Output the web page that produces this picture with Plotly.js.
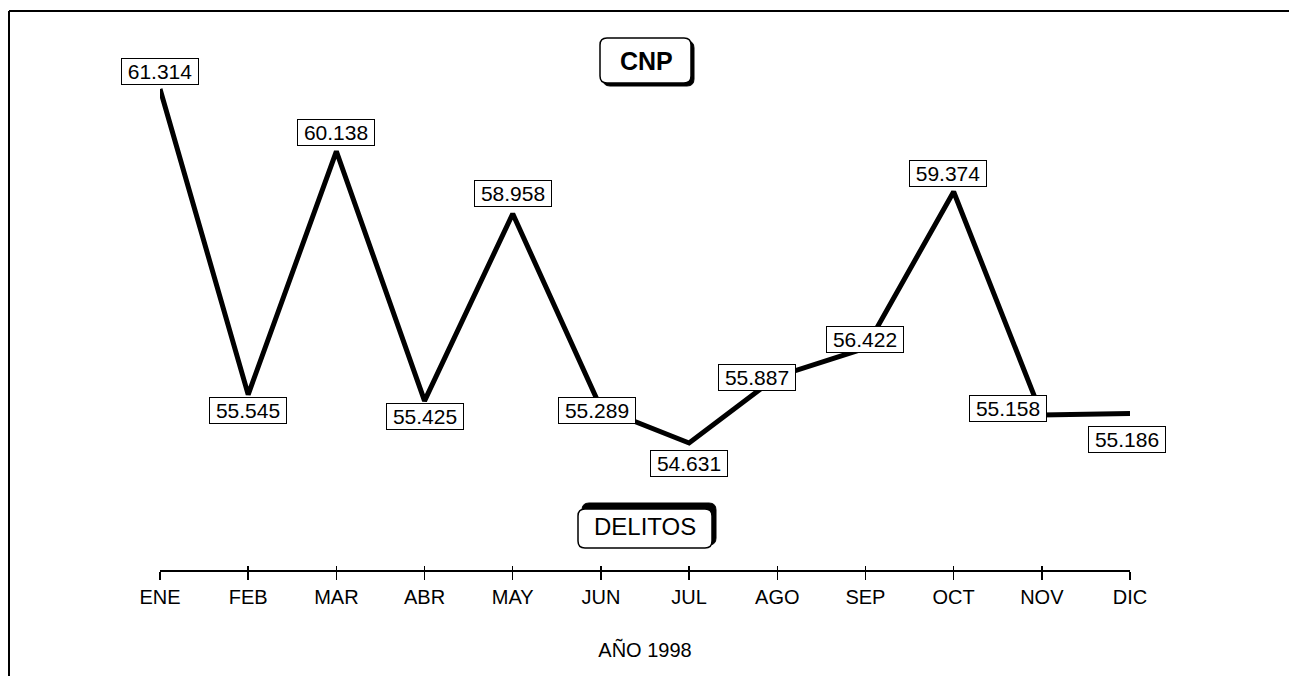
<!DOCTYPE html>
<html>
<head>
<meta charset="utf-8">
<script src="https://cdn.plot.ly/plotly-3.0.1.min.js"></script>
<style>html,body{margin:0;padding:0;background:#fff;}#chart{width:1289px;height:676px;}</style>
</head>
<body>
<div id="chart"></div>
<script>
// ---- data ----
const months = ["ENE","FEB","MAR","ABR","MAY","JUN","JUL","AGO","SEP","OCT","NOV","DIC"];
const delitos = [61314, 55545, 60138, 55425, 58958, 55289, 54631, 55887, 56422, 59374, 55158, 55186];
const valueLabels = ["61.314","55.545","60.138","55.425","58.958","55.289","54.631","55.887","56.422","59.374","55.158","55.186"];
const chartTitle = "CNP";
const seriesName = "DELITOS";
const xTitle = "AÑO 1998";

// ---- label placement (pixel offsets, style only) ----
const labelShift = [[0,17],[0,-16],[0,19],[0,-16],[0,20],[-4,-2],[0,-21],[-20,-1],[0,9],[-6,18],[-34,7],[-3,-26]];

const W = 1289, H = 676, L = 160, R = 159, T = 0, B = 106;
const pw = W - L - R, ph = H - T - B;
const px = x => (x - L) / pw;
const py = y => (H - B - y) / ph;
function rr(x0, y0, x1, y1, r) {
  const P = (x, y) => px(x) + ',' + py(y);
  return 'M ' + P(x0 + r, y0) + ' L ' + P(x1 - r, y0) + ' Q ' + P(x1, y0) + ' ' + P(x1, y0 + r) +
    ' L ' + P(x1, y1 - r) + ' Q ' + P(x1, y1) + ' ' + P(x1 - r, y1) +
    ' L ' + P(x0 + r, y1) + ' Q ' + P(x0, y1) + ' ' + P(x0, y1 - r) +
    ' L ' + P(x0, y0 + r) + ' Q ' + P(x0, y0) + ' ' + P(x0 + r, y0) + ' Z';
}

const yv = delitos.map(v => v / 1000);
const FONT = "Liberation Sans, Arial, Helvetica, sans-serif";

const traces = [
  {x: months, y: yv, type: 'scatter', mode: 'lines', name: seriesName,
   line: {color: '#000', width: 5}, hoverinfo: 'x+y', showlegend: false},
  {x: months, y: yv, xaxis: 'x2', type: 'scatter', mode: 'lines',
   line: {color: 'rgba(0,0,0,0)', width: 0}, hoverinfo: 'skip', showlegend: false}
];

const annotations = months.map((m, i) => ({
  x: m, y: yv[i], xref: 'x', yref: 'y', text: valueLabels[i], showarrow: false,
  xshift: labelShift[i][0], yshift: labelShift[i][1],
  font: {family: FONT, size: 21, color: '#000'},
  width: 72, height: 21, align: 'center', valign: 'middle',
  bgcolor: '#fff', bordercolor: '#000', borderwidth: 1, borderpad: 2
}));
annotations.push({x: px(646), y: py(61), xref: 'paper', yref: 'paper', text: '<b>' + chartTitle + '</b>',
  showarrow: false, font: {family: FONT, size: 25, color: '#000'}, xanchor: 'center', yanchor: 'middle'});
annotations.push({x: px(645), y: py(526), xref: 'paper', yref: 'paper', text: seriesName,
  showarrow: false, font: {family: FONT, size: 24, color: '#000'}, xanchor: 'center', yanchor: 'middle'});

const shapes = [
  {type: 'line', xref: 'paper', yref: 'paper', x0: px(9), x1: px(9), y0: py(11), y1: py(680), line: {color: '#000', width: 2}},
  {type: 'line', xref: 'paper', yref: 'paper', x0: px(9), x1: px(1295), y0: py(11), y1: py(11), line: {color: '#000', width: 2}},
  // CNP box
  {type: 'path', xref: 'paper', yref: 'paper', path: rr(603, 41, 694, 86, 7), fillcolor: '#000', line: {color: '#000', width: 1}},
  {type: 'path', xref: 'paper', yref: 'paper', path: rr(600, 38, 691, 83, 7), fillcolor: '#fff', line: {color: '#000', width: 1.5}},
  // DELITOS box
  {type: 'path', xref: 'paper', yref: 'paper', path: rr(582, 503, 716, 545, 7), fillcolor: '#000', line: {color: '#000', width: 1}},
  {type: 'path', xref: 'paper', yref: 'paper', path: rr(578, 509, 712, 548, 7), fillcolor: '#fff', line: {color: '#000', width: 1.5}}
];

const layout = {
  width: W, height: H,
  margin: {l: L, r: R, t: T, b: B, pad: 0},
  paper_bgcolor: '#fff', plot_bgcolor: 'rgba(0,0,0,0)',
  showlegend: false,
  font: {family: FONT, color: '#000'},
  xaxis: {type: 'category', categoryorder: 'array', categoryarray: months, range: [0, 11],
    showgrid: false, zeroline: false, showline: true, linecolor: '#000', linewidth: 1.5,
    ticks: 'outside', ticklen: 8, tickwidth: 1.5, tickcolor: '#000',
    tickfont: {family: FONT, size: 20, color: '#000'},
    title: {text: xTitle, font: {family: FONT, size: 20, color: '#000'}, standoff: 36},
    automargin: false, fixedrange: true},
  xaxis2: {type: 'category', categoryorder: 'array', categoryarray: months, range: [0, 11],
    overlaying: 'x', anchor: 'y', side: 'bottom', matches: 'x',
    showgrid: false, zeroline: false, showline: false, showticklabels: false,
    ticks: 'inside', ticklen: 4, tickwidth: 1.5, tickcolor: '#000', automargin: false, fixedrange: true},
  yaxis: {range: [52.233, 62.994], visible: false, showgrid: false, zeroline: false, fixedrange: true},
  annotations: annotations,
  shapes: shapes
};

Plotly.newPlot('chart', traces, layout, {displayModeBar: false, staticPlot: true});
</script>
</body>
</html>
